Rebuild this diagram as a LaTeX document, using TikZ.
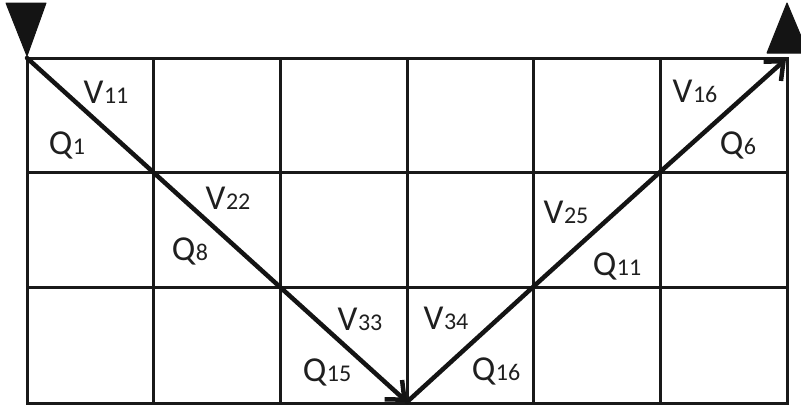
\documentclass[tikz,border=0pt]{standalone}
\usepackage{fontspec}
\setmainfont{Carlito}
\usetikzlibrary{arrows.meta}
\newcommand\dg[1]{{\fontsize{24}{24}\selectfont\kern0.5pt#1}}
\tikzset{
  grid line/.style={line width=3pt, color=black!90, line cap=rect},
  flow/.style={line width=4.5pt, color=black!92, line cap=round, line join=round,
    -{Straight Barb[length=15pt, width=26pt, line width=4.5pt]}},
  marker/.style={fill=black!92, draw=black!92, line width=1pt, line join=round},
  lab/.style={anchor=base, inner sep=0pt, text=black!88, font=\fontsize{35}{35}\selectfont},
}
\begin{document}
\begin{tikzpicture}[x=1pt, y=-1pt]
\useasboundingbox (0,0) rectangle (801,407);
\clip (0,0) rectangle (801,407);
% grid
\foreach \x in {27,153,280,407,533,660,787} \draw[grid line] (\x,58) -- (\x,403);
\foreach \y in {58,172,287,403} \draw[grid line] (27,\y) -- (787,\y);
% corner coordinates
\coordinate (a) at (27,58);
\coordinate (b) at (153,172);
\coordinate (c) at (280,287);
\coordinate (d) at (407,402);
\coordinate (e) at (533,287);
\coordinate (f) at (660,172);
\coordinate (g) at (786,59);
% markers
\draw[marker] (6,3) -- (46,3) -- (27,56) -- cycle;
\draw[marker] (767,53) -- (808,53) -- (787,3) -- cycle;
% flow arrows
\draw[flow] (a) -- (b) -- (c) -- (d);
\draw[flow] (d) -- (e) -- (f) -- (g);
% labels
\node[lab] (v11) at (106,103) {V\dg{11}};
\node[lab] (q1)  at (67,154) {Q\dg{1}};
\node[lab] (v22) at (228,209) {V\dg{22}};
\node[lab] (q8)  at (190,260) {Q\dg{8}};
\node[lab] (v33) at (360,330) {V\dg{33}};
\node[lab] (q15) at (327,381) {Q\dg{15}};
\node[lab] (v34) at (446,329) {V\dg{34}};
\node[lab] (q16) at (496,380) {Q\dg{16}};
\node[lab] (v25) at (566,223) {V\dg{25}};
\node[lab] (q11) at (617,275) {Q\dg{11}};
\node[lab] (v16) at (695,102) {V\dg{16}};
\node[lab] (q6)  at (738,154) {Q\dg{6}};
\end{tikzpicture}
\end{document}
